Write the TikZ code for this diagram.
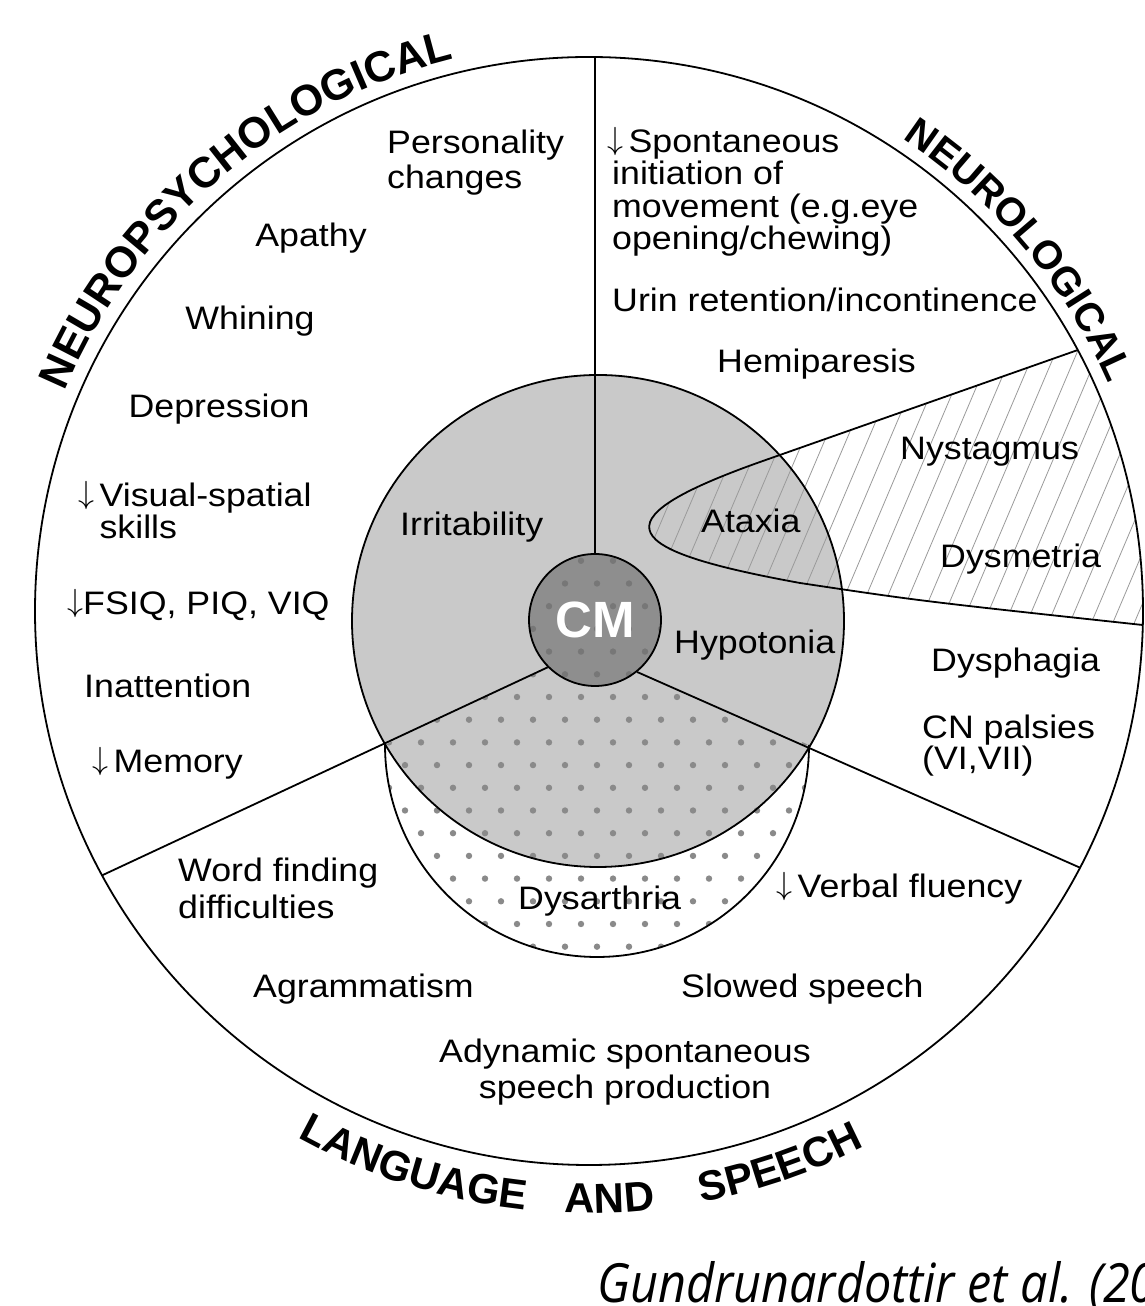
\RequirePackage{fix-cm}
\documentclass[tikz,border=0pt]{standalone}
\usepackage{fontspec}
\setmainfont{Liberation Sans}[FakeStretch=1.1]
\newfontfamily\titlefont{Liberation Sans}
\newfontfamily\citefont{Open Sans}
\usetikzlibrary{calc,decorations.text}
\definecolor{midgray}{HTML}{C9C9C9}
\definecolor{cmgray}{HTML}{8E8E8E}
\definecolor{dotgray}{HTML}{8A8A8A}
\definecolor{dotdark}{HTML}{777777}
\definecolor{hatchgray}{HTML}{9A9A9A}
\newcommand{\lblfont}{\fontsize{32.5}{35}\selectfont}
\newcommand{\ttlfmt}[1]{\titlefont\bfseries\fontsize{#1}{#1}\selectfont}
\newcommand{\dn}{\raisebox{3pt}{\fontsize{32}{32}\selectfont$\downarrow$}}
\newcommand{\dotfield}[1]{%
  \foreach \k in {-12,...,7}{\foreach \m in {-5,...,9}{%
    \fill[#1] ({517+32*\m+16*mod(\k+20,2)},{609+22.7*\k}) circle (3.2);}}}
\begin{document}
\begin{tikzpicture}[x=1pt,y=1pt,
  lbl/.style={inner sep=0pt, font=\lblfont},
  rim/.style={line width=1.8pt, black},
  hatchline/.style={line width=0.8pt, hatchgray},
  titletext/.style={decorate},
]
\useasboundingbox (0,0) rectangle (1145,1306);
\clip (0,0) rectangle (1145,1306);
\fill[white] (0,0) rectangle (1145,1306);

\coordinate (O) at (589,695);   % big circle
\coordinate (G) at (598,685);   % gray circle
\coordinate (M) at (595,686);   % CM circle
\coordinate (D) at (597,561);   % dysarthria circle
\coordinate (T)  at (595,1249);
\coordinate (LL) at ($(O)+(208.5:554)$);
\coordinate (RR) at ($(O)+(-27.6:554)$);
\coordinate (U)  at ($(O)+(28.1:554)$);
\coordinate (E)  at ($(O)+(-1.45:554)$);
\coordinate (P1) at (760,844);
\coordinate (P2) at (800,723);

% fills
\fill[white] (O) circle (554);
\fill[midgray] (G) circle (246);

% hatched area
\begin{scope}
  \clip (O) circle (554);
  \clip (U) -- (P1) .. controls (591,784) and (624,755) .. (P2)
        .. controls (920,705) .. (E) -- (1200,681) -- (1200,1000) -- cycle;
  \foreach \i in {0,...,32}{\draw[hatchline] ({540+21.5*\i},600) -- ++(67:440);}
\end{scope}

% dotted lower region
\begin{scope}
  \clip ($(M)+(225:66)$) -- ($(D)+(180:212)$) arc[start angle=180, end angle=360, radius=212]
        -- ($(M)+(-51:66)$) -- cycle;
  \dotfield{dotgray}
\end{scope}

% CM circle fill and dots
\fill[cmgray] (M) circle (66);
\begin{scope}
  \clip (M) circle (66);
  \dotfield{dotdark}
\end{scope}

% outlines
\draw[rim] (O) circle (554);
\draw[rim] (G) circle (246);
\draw[rim] ($(D)+(180:212)$) arc[start angle=180, end angle=360, radius=212];
\draw[rim] (U) -- (P1) .. controls (591,784) and (624,755) .. (P2) .. controls (920,705) .. (E);

\node[circle, draw, line width=1.8pt, minimum size=132pt, inner sep=0pt, text=white,
      font=\titlefont\bfseries\fontsize{51}{51}\selectfont] (cm) at (M) {CM};
\draw[rim] (cm.north) -- (T);
\draw[rim] (cm.225) -- (LL);
\draw[rim] (cm.-51) -- (RR);

% curved titles
\path[titletext, decoration={text along path, text align=center,
    text={|\ttlfmt{43}|NEUROPSYCHOLOGICAL}}]
  ($(O)+(160:568)$) arc[start angle=160, end angle=101, radius=568];
\path[titletext, decoration={text along path, text align=center,
    text={|\ttlfmt{40}|NEUROLOGICAL}}]
  ($(O)+(60:567)$) arc[start angle=60, end angle=20, radius=567];
\path[titletext, decoration={text along path, text align=center,
    text={|\ttlfmt{42}|LANGUAGE}}]
  ($(O)+(237:602)$) arc[start angle=237, end angle=268, radius=602];
\path[titletext, decoration={text along path, text align=center,
    text={|\ttlfmt{42}|AND}}]
  ($(O)+(262:602)$) arc[start angle=262, end angle=282, radius=602];
\path[titletext, decoration={text along path, text align=center,
    text={|\ttlfmt{42}|SPEECH}}]
  ($(O)+(277:602)$) arc[start angle=277, end angle=301, radius=602];

% labels: neuropsychological
\node[lbl, anchor=north west, align=left] (pers) at (387,1176) {Personality\\changes};
\node[lbl, anchor=base] (apathy) at (311,1059) {Apathy};
\node[lbl, anchor=base] (whining) at (250,976) {Whining};
\node[lbl, anchor=base] (depr) at (219,888) {Depression};
\node[lbl, anchor=north west, align=left, font=\fontsize{32.5}{32}\selectfont] (visual) at (78,825)
  {\dn\,Visual-spatial\\\phantom{\dn\,}skills};
\node[lbl, anchor=base west] (iq) at (67,691) {\dn FSIQ, PIQ, VIQ};
\node[lbl, anchor=base west] (inatt) at (84,608) {Inattention};
\node[lbl, anchor=base west] (mem) at (92,533) {\dn\,Memory};
\node[lbl, anchor=base west] (irr) at (400,770) {Irritability};

% labels: neurological
\node[lbl, anchor=north west, align=left, font=\fontsize{32.5}{32.5}\selectfont] (spont) at (607,1179)
  {\dn\,Spontaneous\\\hspace*{5pt}initiation of\\\hspace*{5pt}movement (e.g.eye\\\hspace*{5pt}opening/chewing)};
\node[lbl, anchor=base west] (urin) at (612,994) {Urin retention/incontinence};
\node[lbl, anchor=base west] (hemi) at (717,933) {Hemiparesis};
\node[lbl, anchor=base west] (ataxia) at (701,773) {Ataxia};
\node[lbl, anchor=base west] (nyst) at (900,846) {Nystagmus};
\node[lbl, anchor=base west] (dysm) at (940,738) {Dysmetria};
\node[lbl, anchor=base west] (hypo) at (674,652) {Hypotonia};
\node[lbl, anchor=base west] (dysph) at (931,634) {Dysphagia};
\node[lbl, anchor=north west, align=left, font=\fontsize{32.5}{30.5}\selectfont] (cn) at (922,591)
  {CN palsies\\(VI,VII)};

% labels: language and speech
\node[lbl, anchor=north west, align=left, font=\fontsize{32.5}{37}\selectfont] (word) at (178,448)
  {Word finding\\difficulties};
\node[lbl, anchor=base west] (dysar) at (518,396) {Dysarthria};
\node[lbl, anchor=base west] (verbal) at (776,408) {\dn\,Verbal fluency};
\node[lbl, anchor=base west] (agram) at (253,308) {Agrammatism};
\node[lbl, anchor=base west] (slow) at (681,308) {Slowed speech};
\node[lbl, anchor=north, align=center, font=\fontsize{32.5}{35.5}\selectfont] (adyn) at (625,267)
  {Adynamic spontaneous\\speech production};

% citation
\node[inner sep=0pt, anchor=base west, xscale=0.9, transform shape,
      font=\citefont\itshape\fontsize{54}{54}\selectfont] (cite) at (597,4) {Gundrunardottir et al. (20};
\end{tikzpicture}
\end{document}
